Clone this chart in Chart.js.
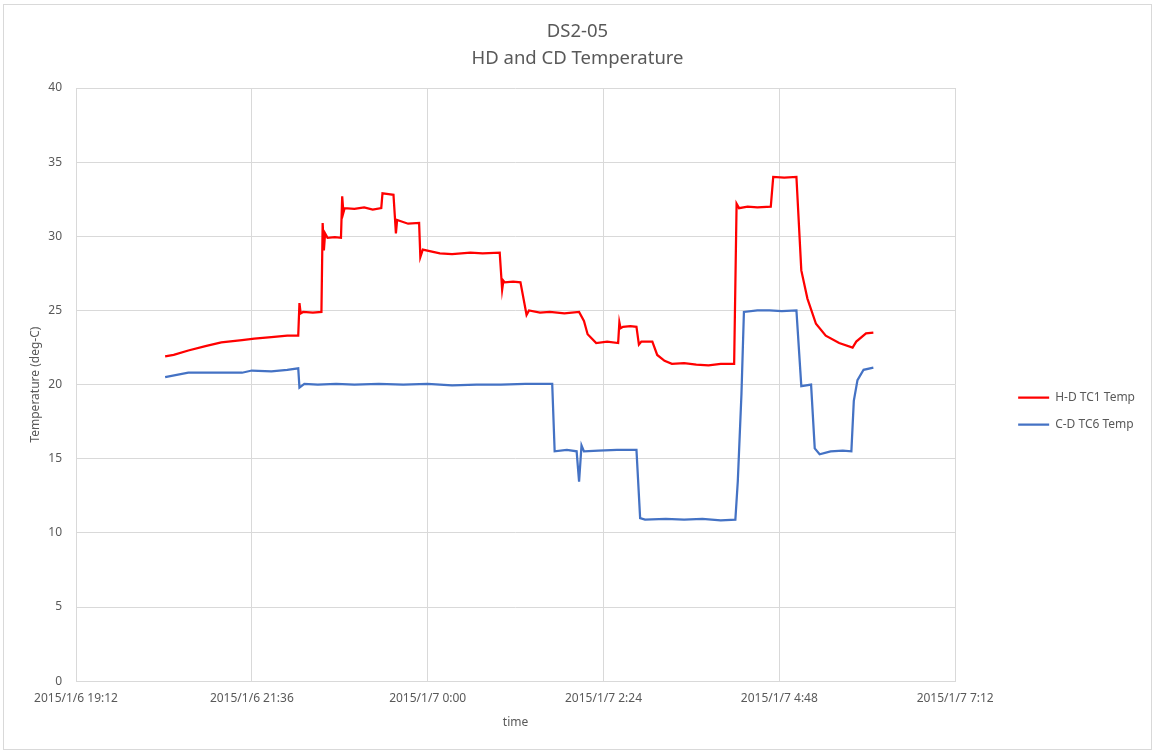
<!DOCTYPE html>
<html>
<head>
<meta charset="utf-8">
<script src="https://cdn.jsdelivr.net/npm/chart.js@4.4.1/dist/chart.umd.min.js"></script>
<style>
  html, body { margin: 0; padding: 0; background: #fff; }
  #wrap { width: 1157px; height: 756px; }
</style>
</head>
<body>
<div id="wrap"><canvas id="chart"></canvas></div>
<script>
// tick labels on the time axis (one every 2h24m)
const xTickLabels = ["2015/1/6 19:12", "2015/1/6 21:36", "2015/1/7 0:00", "2015/1/7 2:24", "2015/1/7 4:48", "2015/1/7 7:12"];

// H-D TC1 Temp
const hdTimes = ["20:25", "20:32", "20:44", "20:58", "21:11", "21:28", "21:38", "21:52", "22:05", "22:14",
  "22:15", "22:16", "22:18", "22:26", "22:33", "22:34", "22:35", "22:36", "22:38", "22:44",
  "22:49", "22:50", "22:51", "22:52", "23:00", "23:08", "23:15", "23:22", "23:23", "23:28",
  "23:32", "23:34", "23:35", "23:44", "23:53", "23:54", "23:56", "0:10", "0:20", "0:35",
  "0:45", "0:59", "1:01", "1:02", "1:03", "1:10", "1:16", "1:21", "1:23", "1:32",
  "1:40", "1:52", "2:04", "2:08", "2:11", "2:18", "2:27", "2:36", "2:37", "2:38",
  "2:40", "2:46", "2:51", "2:53", "2:55", "3:04", "3:08", "3:14", "3:20", "3:30",
  "3:40", "3:50", "4:00", "4:11", "4:13", "4:15", "4:22", "4:30", "4:41", "4:43",
  "4:52", "5:02", "5:06", "5:11", "5:18", "5:26", "5:37", "5:48", "5:51", "5:59",
  "6:05"];
const hdTemps = [21.9, 22.0, 22.3, 22.6, 22.85, 23.0, 23.1, 23.2, 23.3, 23.3,
  25.5, 24.8, 24.9, 24.85, 24.9, 30.9, 29.05, 30.2, 29.9, 29.95,
  29.9, 32.7, 31.6, 31.9, 31.85, 31.95, 31.8, 31.9, 32.9, 32.85,
  32.8, 30.2, 31.1, 30.85, 30.9, 28.6, 29.1, 28.85, 28.8, 28.9,
  28.85, 28.9, 26.4, 27.0, 26.9, 26.95, 26.9, 24.7, 25.0, 24.85,
  24.9, 24.8, 24.9, 24.3, 23.4, 22.8, 22.9, 22.8, 24.2, 23.8,
  23.9, 23.95, 23.9, 22.7, 22.9, 22.9, 22.0, 21.6, 21.4, 21.45,
  21.35, 21.3, 21.4, 21.4, 32.2, 31.9, 32.0, 31.95, 32.0, 34.0,
  33.95, 34.0, 27.7, 25.8, 24.1, 23.3, 22.8, 22.5, 22.9, 23.45,
  23.5];

// C-D TC6 Temp
const cdTimes = ["20:25", "20:44", "21:11", "21:28", "21:36", "21:52", "22:05", "22:14", "22:15", "22:19",
  "22:30", "22:45", "23:00", "23:20", "23:40", "0:00", "0:20", "0:40", "1:00", "1:20",
  "1:42", "1:44", "1:54", "2:02", "2:04", "2:06", "2:08", "2:20", "2:35", "2:51",
  "2:54", "2:58", "3:15", "3:30", "3:45", "4:00", "4:12", "4:14", "4:17", "4:19",
  "4:30", "4:40", "4:50", "5:02", "5:06", "5:14", "5:17", "5:21", "5:30", "5:40",
  "5:47", "5:49", "5:52", "5:57", "6:05"];
const cdTemps = [20.5, 20.8, 20.8, 20.8, 20.95, 20.9, 21.0, 21.1, 19.8, 20.05,
  20.0, 20.05, 20.0, 20.05, 20.0, 20.05, 19.95, 20.0, 20.0, 20.05,
  20.05, 15.5, 15.6, 15.5, 13.45, 15.9, 15.5, 15.55, 15.6, 15.6,
  11.0, 10.9, 10.95, 10.9, 10.95, 10.85, 10.9, 13.5, 19.4, 24.9,
  25.0, 25.0, 24.95, 25.0, 19.9, 20.0, 15.7, 15.3, 15.5, 15.55,
  15.5, 18.9, 20.3, 21.0, 21.15];

// minutes after 2015/1/6 19:12
function toMinutes(t) {
  const parts = t.split(":");
  let m = parseInt(parts[0]) * 60 + parseInt(parts[1]);
  if (m < 12 * 60) m += 1440;
  return m - (19 * 60 + 12);
}

function points(times, temps) {
  return times.map((t, i) => ({ x: toMinutes(t), y: temps[i] }));
}

const textColor = "#595959";
const gridColor = "#d9d9d9";
const fontFamily = "'Noto Sans', 'Liberation Sans', sans-serif";

// thin frame round the whole chart
const framePlugin = {
  id: "frame",
  beforeDraw(chart) {
    const ctx = chart.ctx;
    ctx.save();
    ctx.fillStyle = "#fff";
    ctx.fillRect(0, 0, chart.width, chart.height);
    ctx.strokeStyle = gridColor;
    ctx.lineWidth = 1;
    ctx.strokeRect(3.5, 4.5, 1148, 745);
    ctx.restore();
  }
};

new Chart(document.getElementById("chart"), {
  type: "line",
  data: {
    datasets: [{
      label: "H-D TC1 Temp",
      data: points(hdTimes, hdTemps),
      borderColor: "#ff0000",
      backgroundColor: "#ff0000",
      borderWidth: 2.25,
      pointRadius: 0,
      tension: 0
    }, {
      label: "C-D TC6 Temp",
      data: points(cdTimes, cdTemps),
      borderColor: "#4472c4",
      backgroundColor: "#4472c4",
      borderWidth: 2.25,
      pointRadius: 0,
      tension: 0
    }]
  },
  options: {
    responsive: true,
    maintainAspectRatio: false,
    animation: false,
    layout: { padding: { left: 10, right: 12, top: 18, bottom: 22 } },
    plugins: {
      tooltip: { enabled: false },
      title: {
        display: true,
        text: ["DS2-05", "HD and CD Temperature"],
        color: textColor,
        font: { family: fontFamily, size: 18.5, weight: "normal", lineHeight: 1.46 },
        padding: { top: 0, bottom: 16 }
      },
      legend: {
        position: "right",
        title: {
          display: true,
          text: " ",
          font: { family: fontFamily, size: 12 },
          padding: { top: 56, bottom: 0 }
        },
        labels: {
          color: textColor,
          font: { family: fontFamily, size: 12 },
          usePointStyle: true,
          pointStyle: "line",
          pointStyleWidth: 31,
          padding: 15
        }
      }
    },
    scales: {
      x: {
        type: "linear",
        min: 0,
        max: 720,
        ticks: {
          stepSize: 144,
          color: textColor,
          font: { family: fontFamily, size: 12 },
          padding: 10,
          maxRotation: 0,
          autoSkip: false,
          callback: (v) => xTickLabels[Math.round(v / 144)]
        },
        grid: { color: gridColor, drawTicks: false },
        border: { color: gridColor },
        title: {
          display: true,
          text: "time",
          color: textColor,
          font: { family: fontFamily, size: 12 },
          padding: { top: 0, bottom: 4 }
        }
      },
      y: {
        min: 0,
        max: 40,
        ticks: {
          stepSize: 5,
          color: textColor,
          font: { family: fontFamily, size: 12 },
          padding: 14
        },
        grid: { color: gridColor, drawTicks: false },
        border: { display: false },
        title: {
          display: true,
          text: "Temperature (deg-C)",
          color: textColor,
          font: { family: fontFamily, size: 12 },
          padding: { top: 18, bottom: 0 }
        },
        afterFit: (scale) => { scale.width = 66; }
      },
      gap: {
        position: "right",
        display: true,
        ticks: { display: false },
        grid: { display: false },
        border: { display: false },
        afterFit: (scale) => { scale.width = 48; }
      }
    }
  },
  plugins: [framePlugin]
});
</script>
</body>
</html>
